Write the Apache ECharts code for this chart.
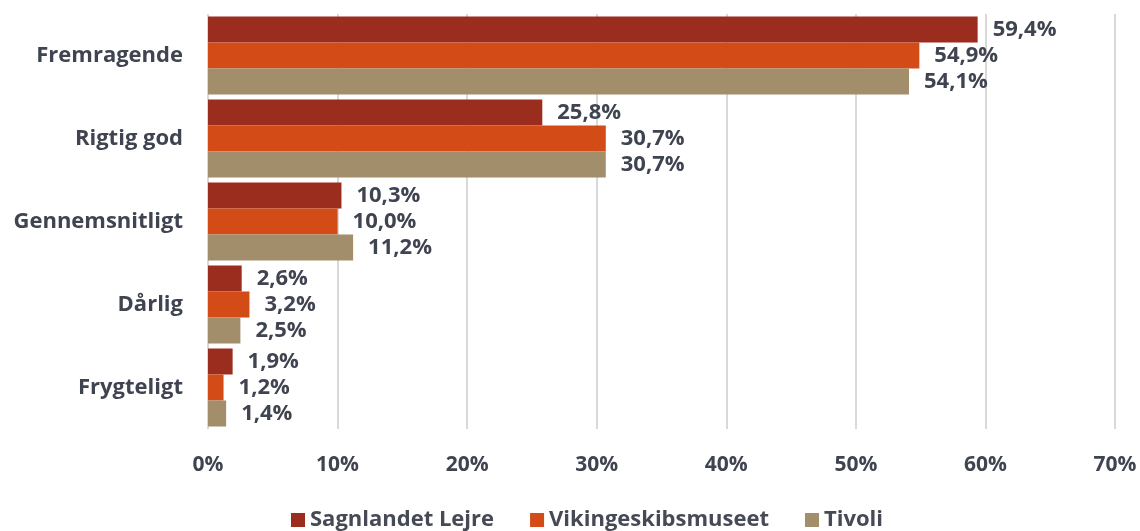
<!DOCTYPE html>
<html>
<head>
<meta charset="utf-8">
<script src="https://cdn.jsdelivr.net/npm/echarts@6/dist/echarts.min.js"></script>
<style>
  html, body { margin: 0; padding: 0; background: #fff; }
  #chart { width: 1140px; height: 531px; }
</style>
</head>
<body>
<div id="chart"></div>
<script>
// Kategorier (oppefra og ned)
const categories = ['Fremragende', 'Rigtig god', 'Gennemsnitligt', 'Dårlig', 'Frygteligt'];
const seriesNames = ['Sagnlandet Lejre', 'Vikingeskibsmuseet', 'Tivoli'];
const sagnlandet = [59.4, 25.8, 10.3, 2.6, 1.9];
const vikingeskibsmuseet = [54.9, 30.7, 10.0, 3.2, 1.2];
const tivoli = [54.1, 30.7, 11.2, 2.5, 1.4];
const colors = ['#9b2d1f', '#d34b17', '#a38e6b'];

const fontFam = '"Open Sans", Lato, sans-serif';
const textColor = '#3f4450';

function fmt(v) {
    return v.toFixed(1).replace('.', ',') + '%';
}

const chart = echarts.init(document.getElementById('chart'));

const option = {
    backgroundColor: '#fff',
    animation: false,
    grid: { left: 208, right: 25, top: 14, bottom: 102, containLabel: false },
    legend: {
        bottom: -5,
        left: 286,
        itemWidth: 14,
        itemHeight: 14,
        itemGap: 36,
        icon: 'rect',
        data: seriesNames,
        textStyle: { fontFamily: fontFam, fontSize: 22, fontWeight: 'bold', color: '#454a55' }
    },
    xAxis: {
        type: 'value',
        min: 0,
        max: 70,
        interval: 10,
        axisLine: { show: false },
        axisTick: { show: false },
        splitLine: { lineStyle: { color: '#d9d9d9', width: 2 } },
        axisLabel: {
            formatter: v => v + '%',
            fontFamily: fontFam,
            fontSize: 21,
            fontWeight: 'bold',
            color: textColor,
            margin: 26
        }
    },
    yAxis: {
        type: 'category',
        inverse: true,
        data: categories,
        axisLine: { show: false },
        axisTick: { show: false },
        axisLabel: {
            fontFamily: fontFam,
            fontSize: 22,
            fontWeight: 'bold',
            color: textColor,
            margin: 25
        }
    },
    series: [sagnlandet, vikingeskibsmuseet, tivoli].map((data, i) => ({
        name: seriesNames[i],
        type: 'bar',
        data: data,
        barGap: '0%',
        barCategoryGap: '6%',
        itemStyle: { color: colors[i] },
        label: {
            show: true,
            position: 'right',
            distance: 15,
            formatter: p => fmt(p.value),
            fontFamily: fontFam,
            fontSize: 22,
            fontWeight: 'bold',
            color: textColor
        }
    }))
};

chart.setOption(option);
</script>
</body>
</html>
